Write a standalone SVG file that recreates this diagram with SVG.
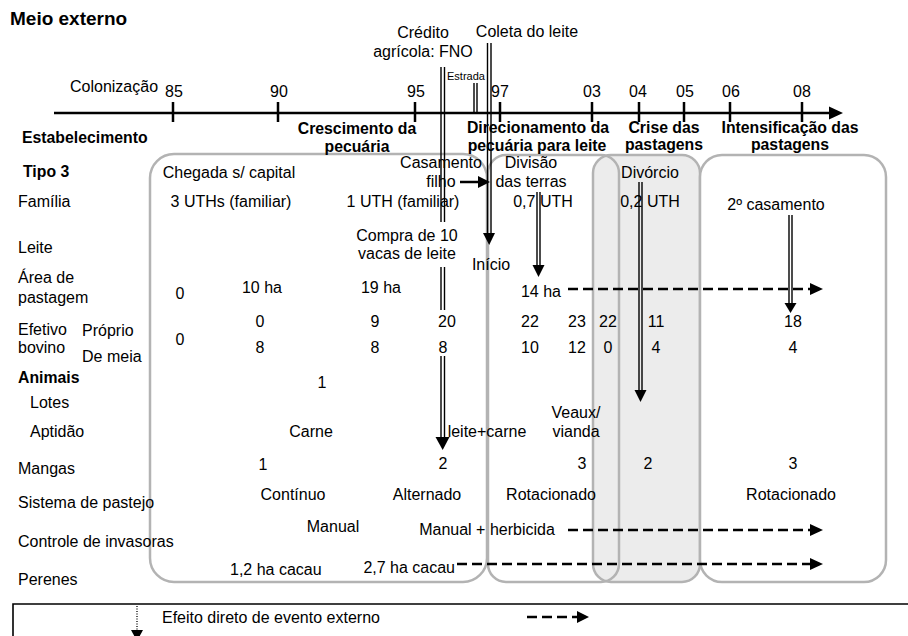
<svg xmlns="http://www.w3.org/2000/svg" width="908" height="636" viewBox="0 0 908 636">
<style>
text{font-family:"Liberation Sans",Arial,sans-serif;font-size:16px;fill:#000}
.b{font-weight:bold;font-size:15.8px}
.m{text-anchor:middle}
.e{text-anchor:end}
.box{stroke:#b3b3b3;stroke-width:2.5}
.ax{stroke:#000;stroke-width:2.5;fill:none}
.dl{stroke:#000;stroke-width:1.4;fill:none}
.da{stroke:#000;stroke-width:2.5;stroke-dasharray:10 5;fill:none}
.hd{fill:#000}
</style>
<g id="periods">
<rect id="box-crescimento" class="box" x="150" y="154" width="337" height="428" rx="24" fill="#fff"/>
<rect id="box-crise" class="box" x="593" y="155" width="107" height="427" rx="18" fill="#ececec"/>
<rect id="box-direcionamento" class="box" x="488" y="155" width="131" height="427" rx="18" fill="none"/>
<rect id="box-intensificacao" class="box" x="700" y="155" width="186" height="427" rx="22" fill="#fff"/>
</g>
<g id="title">
<text class="b" x="10" y="25" style="font-size:19px">Meio externo</text>
</g>
<g id="timeline">
<path class="ax" d="M54 113H830M173 102V122M278 102V122M415 102V122M500 102V122M592 102V122M639 102V122M684 102V122M730 102V122M802 102V122"/>
<polygon class="hd" points="829,106.5 843,113 829,119.5"/>
<text x="70" y="92">Colonização</text>
<text class="m" x="174" y="97">85</text>
<text class="m" x="279" y="97">90</text>
<text class="m" x="416" y="97">95</text>
<text class="m" x="500" y="97">97</text>
<text class="m" x="592" y="97">03</text>
<text class="m" x="638" y="97">04</text>
<text class="m" x="685" y="97">05</text>
<text class="m" x="731" y="97">06</text>
<text class="m" x="802" y="97">08</text>
</g>
<g id="phases">
<text class="b" x="22" y="143">Estabelecimento</text>
<text class="b m" x="357" y="134">Crescimento da</text>
<text class="b m" x="357" y="152">pecuária</text>
<text class="b m" x="538" y="133">Direcionamento da</text>
<text class="b m" x="537" y="151">pecuária para leite</text>
<text class="b m" x="664" y="133">Crise das</text>
<text class="b m" x="664" y="150">pastagens</text>
<text class="b m" x="790" y="133">Intensificação das</text>
<text class="b m" x="790" y="150">pastagens</text>
</g>
<g id="row-labels">
<text class="b" x="23" y="177">Tipo 3</text>
<text x="18" y="207">Família</text>
<text x="18" y="253">Leite</text>
<text x="18" y="283">Área de</text>
<text x="18" y="303">pastagem</text>
<text x="18" y="335">Efetivo</text>
<text x="82" y="336">Próprio</text>
<text x="18" y="353">bovino</text>
<text x="82" y="362">De meia</text>
<text class="b" x="18" y="383">Animais</text>
<text x="30" y="408">Lotes</text>
<text x="30" y="437">Aptidão</text>
<text x="18" y="474">Mangas</text>
<text x="18" y="508">Sistema de pastejo</text>
<text x="18" y="547">Controle de invasoras</text>
<text x="18" y="585">Perenes</text>
</g>
<g id="events">
<text class="m" x="423" y="38">Crédito</text>
<text class="m" x="423" y="57">agrícola: FNO</text>
<text class="m" x="527" y="37">Coleta do leite</text>
<text class="m" x="466" y="80" style="font-size:11px">Estrada</text>
<text class="m" x="441" y="168">Casamento</text>
<text class="m" x="441" y="187">filho</text>
<text class="m" x="531" y="168">Divisão</text>
<text class="m" x="531" y="187">das terras</text>
<text class="m" x="650" y="178">Divórcio</text>
<text class="m" x="776" y="210">2º casamento</text>
<text class="m" x="407" y="241">Compra de 10</text>
<text class="m" x="407" y="259">vacas de leite</text>
<text class="m" x="491" y="270">Início</text>
</g>
<g id="values">
<text class="m" x="229" y="178">Chegada s/ capital</text>
<text class="m" x="231" y="207">3 UTHs (familiar)</text>
<text class="m" x="403" y="207">1 UTH (familiar)</text>
<text class="m" x="543" y="207">0,7 UTH</text>
<text class="m" x="650" y="207">0,2 UTH</text>
<text class="m" x="180" y="299">0</text>
<text class="m" x="262" y="293">10 ha</text>
<text class="m" x="381" y="293">19 ha</text>
<text class="m" x="541" y="297">14 ha</text>
<text class="m" x="180" y="345">0</text>
<text class="m" x="260" y="327">0</text>
<text class="m" x="375" y="327">9</text>
<text class="m" x="447" y="327">20</text>
<text class="m" x="530" y="327">22</text>
<text class="m" x="577" y="327">23</text>
<text class="m" x="608" y="327">22</text>
<text class="m" x="656" y="327">11</text>
<text class="m" x="793" y="327">18</text>
<text class="m" x="260" y="353">8</text>
<text class="m" x="375" y="353">8</text>
<text class="m" x="443" y="353">8</text>
<text class="m" x="530" y="353">10</text>
<text class="m" x="577" y="353">12</text>
<text class="m" x="608" y="353">0</text>
<text class="m" x="656" y="353">4</text>
<text class="m" x="793" y="353">4</text>
<text class="m" x="322" y="388">1</text>
<text class="m" x="311" y="437">Carne</text>
<text class="m" x="487" y="437">leite+carne</text>
<text class="m" x="576" y="418">Veaux/</text>
<text class="m" x="576" y="437">vianda</text>
<text class="m" x="263" y="470">1</text>
<text class="m" x="443" y="469">2</text>
<text class="m" x="582" y="469">3</text>
<text class="m" x="648" y="469">2</text>
<text class="m" x="793" y="469">3</text>
<text class="m" x="293" y="500">Contínuo</text>
<text class="m" x="427" y="500">Alternado</text>
<text class="m" x="551" y="500">Rotacionado</text>
<text class="m" x="791" y="500">Rotacionado</text>
<text class="m" x="333" y="532">Manual</text>
<text class="m" x="487" y="535">Manual + herbicida</text>
<text x="230" y="575">1,2 ha cacau</text>
<text class="e" x="455" y="573">2,7 ha cacau</text>
</g>
<g id="connectors">
<path class="dl" d="M441 67V222M444.5 67V222M441 267V310M444.5 267V310M441 356V438M444.5 356V438"/>
<polygon class="hd" points="435.5,437 449.5,437 442.7,450"/>
<path class="dl" d="M487.5 43V234M491 43V234"/>
<polygon class="hd" points="483,233 495,233 489.2,245"/>
<path class="dl" d="M474 83V113M477 83V113"/>
<path class="dl" d="M537 192V266M540 192V266"/>
<polygon class="hd" points="532.5,265 544.5,265 538.5,277"/>
<path class="dl" d="M639 182V391M642 182V391"/>
<polygon class="hd" points="634.5,390 646.5,390 640.5,402"/>
<path class="dl" d="M789 215V304M792 215V304"/>
<polygon class="hd" points="784.5,303 796.5,303 790.5,313"/>
<path class="ax" d="M460 182H479"/>
<polygon class="hd" points="478,176 490,182 478,188"/>
<path class="da" d="M568 289H811"/>
<polygon class="hd" points="810,283 823,289 810,295"/>
<path class="da" d="M568 530H811"/>
<polygon class="hd" points="810,524 823,530 810,536"/>
<path class="da" d="M457 564H811"/>
<polygon class="hd" points="810,558 823,564 810,570"/>
</g>
<g id="legend">
<path d="M13 640V604H910" fill="none" stroke="#000" stroke-width="1.6"/>
<path d="M137 606V631" stroke="#000" stroke-width="1.3" stroke-dasharray="1 1.5" fill="none"/>
<polygon class="hd" points="131,630 143,630 137,641"/>
<text x="162" y="623">Efeito direto de evento externo</text>
<path d="M527 617H578" stroke="#000" stroke-width="2.5" stroke-dasharray="10 5" fill="none"/>
<polygon class="hd" points="577,611 589,617 577,623"/>
</g>
</svg>
